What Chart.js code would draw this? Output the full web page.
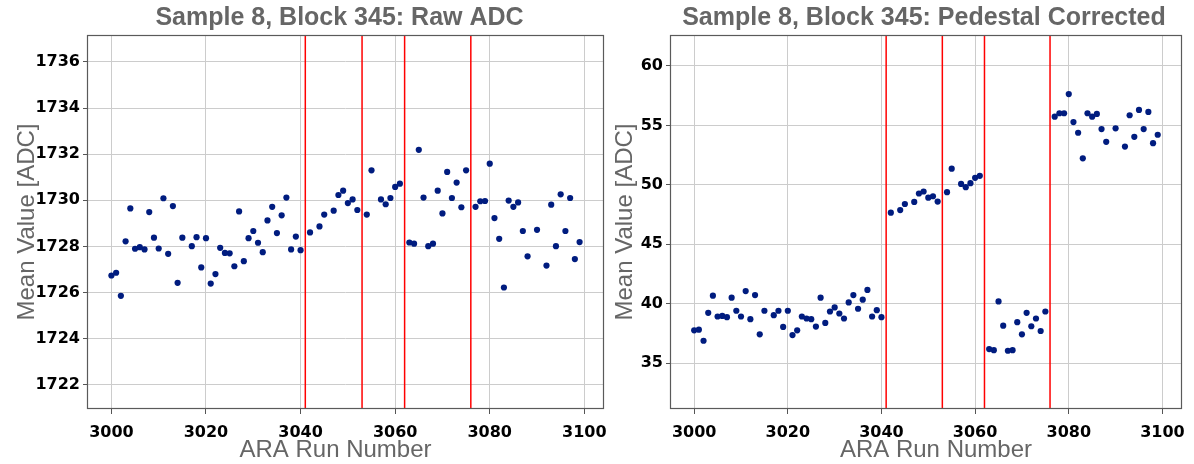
<!DOCTYPE html>
<html>
<head>
<meta charset="utf-8">
<script src="https://cdn.jsdelivr.net/npm/chart.js@4"></script>
<style>
  html, body { margin: 0; padding: 0; background: #fff; }
  #wrap { position: relative; width: 1194px; height: 464px; overflow: hidden; }
  canvas { position: absolute; top: 0; }
  #rawChart { left: 0; }
  #pedChart { left: 595px; }
</style>
</head>
<body>
<div id="wrap">
  <canvas id="rawChart" width="620" height="464"></canvas>
  <canvas id="pedChart" width="599" height="464"></canvas>
</div>
<script>
// ARA run numbers (a few runs are missing)
const runs = [
  3000, 3001, 3002, 3003, 3004, 3005, 3006, 3007, 3008, 3009, 3010, 3011, 3012, 3013, 3014, 3015,
  3017, 3018, 3019, 3020, 3021, 3022, 3023, 3024, 3025, 3026, 3027, 3028, 3029, 3030, 3031, 3032,
  3033, 3034, 3035, 3036, 3037, 3038, 3039, 3040,
  3042, 3044, 3045, 3047, 3048, 3049, 3050, 3051, 3052, 3054, 3055, 3057, 3058, 3059, 3060, 3061,
  3063, 3064, 3065, 3066, 3067, 3068, 3069, 3070, 3071, 3072, 3073, 3074, 3075,
  3077, 3078, 3079, 3080, 3081, 3082, 3083, 3084, 3085, 3086, 3087, 3088, 3090,
  3092, 3093, 3094, 3095, 3096, 3097, 3098, 3099
];

const rawAdc = [
  1726.74, 1726.86, 1725.86, 1728.22, 1729.65, 1727.90, 1727.97, 1727.87, 1729.49, 1728.38, 1727.91, 1730.09, 1727.68, 1729.75, 1726.42, 1728.38,
  1728.01, 1728.40, 1727.09, 1728.36, 1726.39, 1726.80, 1727.94, 1727.72, 1727.70, 1727.14, 1729.52, 1727.36, 1728.36, 1728.67, 1728.16, 1727.75,
  1729.13, 1729.72, 1728.58, 1729.35, 1730.12, 1727.87, 1728.43, 1727.84,
  1728.61, 1728.87, 1729.38, 1729.55, 1730.23, 1730.42, 1729.88, 1730.04, 1729.58, 1729.38, 1731.30, 1730.04, 1729.83, 1730.10, 1730.58, 1730.72,
  1728.17, 1728.12, 1732.19, 1730.12, 1728.01, 1728.12, 1730.42, 1729.43, 1731.23, 1730.10, 1730.77, 1729.70, 1731.30,
  1729.72, 1729.96, 1729.97, 1731.59, 1729.23, 1728.33, 1726.22, 1729.99, 1729.72, 1729.91, 1728.67, 1727.57, 1728.72,
  1727.17, 1729.81, 1728.01, 1730.26, 1728.67, 1730.10, 1727.45, 1728.19
];

const pedCorrected = [
  37.77, 37.82, 36.89, 39.24, 40.68, 38.93, 38.98, 38.87, 40.51, 39.41, 38.93, 41.07, 38.70, 40.73, 37.43, 39.41,
  39.04, 39.41, 38.05, 39.41, 37.37, 37.77, 38.93, 38.76, 38.70, 38.08, 40.51, 38.39, 39.35, 39.69, 39.18, 38.76,
  40.11, 40.73, 39.58, 40.34, 41.16, 38.93, 39.46, 38.87,
  47.66, 47.88, 48.39, 48.56, 49.27, 49.44, 48.92, 49.04, 48.59, 49.38, 51.36, 50.08, 49.80, 50.14, 50.59, 50.76,
  36.19, 36.10, 40.20, 38.16, 36.05, 36.10, 38.45, 37.43, 39.24, 38.11, 38.76, 37.71, 39.35,
  55.73, 56.02, 56.02, 57.63, 55.28, 54.38, 52.23, 56.02, 55.73, 55.96, 54.69, 53.62, 54.75,
  53.22, 55.85, 54.04, 56.30, 54.69, 56.13, 53.50, 54.21
];

// runs where the red markers sit
const markerRuns = [3041, 3053, 3062, 3076];

const xLimits = [2995.05, 3103.95];
const rawLimits = [1720.95, 1737.17];
const pedLimits = [31.15, 62.6];

// frame + titles drawn around the chart area
const panelText = {
    id: 'panelText',
    afterDraw(chart, args, opts) {
        const ctx = chart.ctx;
        const a = chart.chartArea;
        const cx = (a.left + a.right) / 2;
        ctx.save();
        ctx.strokeStyle = '#5a5a5a';
        ctx.lineWidth = 1.2;
        ctx.strokeRect(Math.round(a.left) - 0.5, Math.round(a.top) + 0.5,
                       Math.round(a.right - a.left) + 1, Math.round(a.bottom - a.top) - 1);
        ctx.fillStyle = '#666666';
        ctx.textAlign = 'center';
        ctx.textBaseline = 'middle';
        ctx.font = 'bold 25px "Liberation Sans", Arial, sans-serif';
        ctx.fillText(opts.title, cx + opts.titleShift, 18);
        ctx.font = '24px "Liberation Sans", Arial, sans-serif';
        ctx.fillText(opts.xTitle, cx + opts.xTitleShift, 450);
        ctx.restore();
    }
};

function makePanel(canvasId, values, yLim, yStep, yAxisWidth, padRight, yTitlePad, title, titleShift, xTitleShift) {
    const points = runs.map((r, i) => ({x: r, y: values[i]}));
    const markers = markerRuns.map(r => ({
        type: 'scatter',
        data: [{x: r, y: yLim[0]}, {x: r, y: yLim[1]}],
        showLine: true,
        borderColor: '#ff0000',
        borderWidth: 1.5,
        pointRadius: 0
    }));
    const tickFont = {family: '"DejaVu Sans", sans-serif', size: 16, weight: 'bold'};
    return new Chart(document.getElementById(canvasId), {
        type: 'scatter',
        data: {
            datasets: [{
                data: points,
                backgroundColor: '#001c7f',
                borderColor: '#001c7f',
                borderWidth: 0,
                pointRadius: 3.1
            }].concat(markers)
        },
        options: {
            responsive: false,
            animation: false,
            devicePixelRatio: 1,
            layout: {
                padding: {left: 0, top: 35, right: padRight, bottom: 0}
            },
            plugins: {
                legend: {display: false},
                tooltip: {enabled: false},
                panelText: {
                    title: title,
                    titleShift: titleShift,
                    xTitle: 'ARA Run Number',
                    xTitleShift: xTitleShift
                }
            },
            scales: {
                x: {
                    type: 'linear',
                    min: xLimits[0],
                    max: xLimits[1],
                    afterFit: s => { s.height = 55; },
                    ticks: {
                        stepSize: 20,
                        includeBounds: false,
                        color: '#000',
                        font: tickFont,
                        padding: 9,
                        maxRotation: 0,
                        callback: v => String(v)
                    },
                    grid: {color: '#cccccc', tickColor: '#555', tickLength: 5, lineWidth: 1},
                    border: {display: false}
                },
                y: {
                    type: 'linear',
                    min: yLim[0],
                    max: yLim[1],
                    afterFit: s => { s.width = yAxisWidth; },
                    ticks: {
                        stepSize: yStep,
                        includeBounds: false,
                        color: '#000',
                        font: tickFont,
                        padding: 3,
                        callback: v => String(v)
                    },
                    grid: {color: '#cccccc', tickColor: '#555', tickLength: 5, lineWidth: 1},
                    border: {display: false},
                    title: {
                        display: true,
                        text: 'Mean Value [ADC]',
                        color: '#666666',
                        font: {family: '"Liberation Sans", Arial, sans-serif', size: 24},
                        padding: {top: yTitlePad, bottom: 0}
                    }
                }
            }
        },
        plugins: [panelText]
    });
}

document.addEventListener('DOMContentLoaded', function() {
    makePanel('rawChart', rawAdc, rawLimits, 2, 88, 17, 12.6,
              'Sample 8, Block 345: Raw ADC', -6, -10);
    makePanel('pedChart', pedCorrected, pedLimits, 5, 76, 9, 15.6,
              'Sample 8, Block 345: Pedestal Corrected', -2, 10);
});
</script>
</body>
</html>
